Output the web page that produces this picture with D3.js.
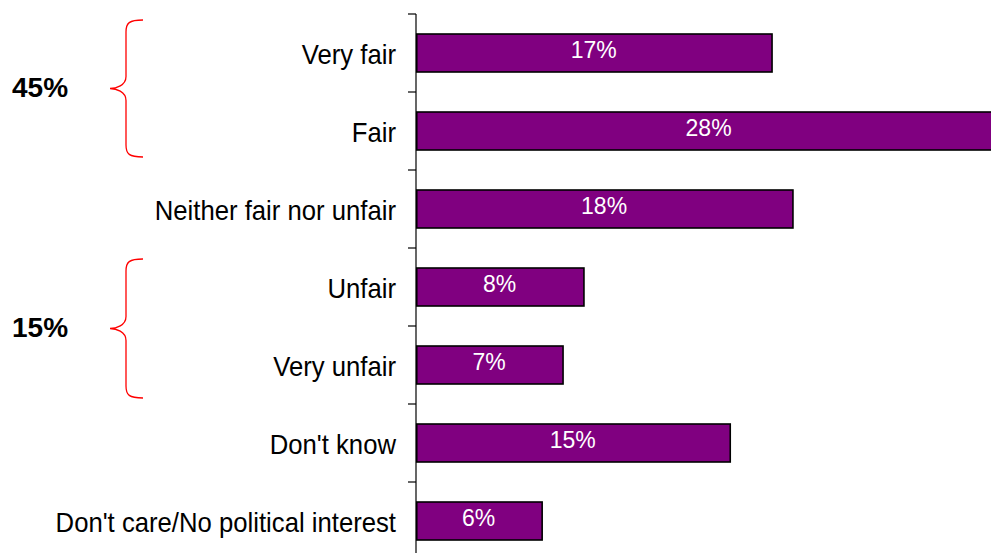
<!DOCTYPE html>
<html>
<head>
<meta charset="utf-8">
<script src="https://cdn.jsdelivr.net/npm/d3@7"></script>
<style>
  html, body { margin: 0; padding: 0; background: #fff; }
  svg { display: block; font-family: "Liberation Sans", Arial, sans-serif; }
</style>
</head>
<body>
<svg id="chart" width="991" height="553"></svg>
<script>
// Survey answers and their shares (%)
const categories = [
  "Very fair",
  "Fair",
  "Neither fair nor unfair",
  "Unfair",
  "Very unfair",
  "Don't know",
  "Don't care/No political interest"
];
const values = [17, 28, 18, 8, 7, 15, 6];

// Grouped totals shown beside the braces
const groupLabels = ["45%", "15%"];
const groupRanges = [["Very fair", "Fair"], ["Unfair", "Very unfair"]];

const svg = d3.select("#chart");
const W = 991, H = 553;

const x = d3.scaleLinear().domain([0, 20]).range([416, 834]);
const step = 78;
const y = d3.scaleBand()
  .domain(categories)
  .range([14, 14 + step * categories.length])
  .paddingInner(0.513)
  .paddingOuter(0.2565);

const stretch = "scale(1,1.1)";

// Bars
svg.append("g")
  .selectAll("rect")
  .data(values)
  .join("rect")
  .attr("x", x(0) + 0.75)
  .attr("y", (d, i) => y(categories[i]))
  .attr("width", d => x(d) - x(0))
  .attr("height", y.bandwidth())
  .attr("fill", "#800080")
  .attr("stroke", "#000")
  .attr("stroke-width", 1.6);

// Value labels inside bars
svg.append("g")
  .selectAll("text")
  .data(values)
  .join("text")
  .attr("x", d => (x(0) + x(d)) / 2)
  .attr("y", (d, i) => y(categories[i]) + y.bandwidth() / 2 + 5)
  .attr("text-anchor", "middle")
  .attr("fill", "#fff")
  .attr("font-size", 23)
  .text(d => d + "%");

// Category axis
const axisX = x(0);
svg.append("line")
  .attr("x1", axisX).attr("x2", axisX)
  .attr("y1", y.range()[0]).attr("y2", H)
  .attr("stroke", "#000").attr("stroke-width", 1.2);

const tickYs = d3.range(categories.length + 1).map(i => y.range()[0] + i * y.step());
svg.append("g")
  .selectAll("line")
  .data(tickYs)
  .join("line")
  .attr("x1", axisX - 8).attr("x2", axisX)
  .attr("y1", d => d).attr("y2", d => d)
  .attr("stroke", "#000").attr("stroke-width", 1.2);

svg.append("g")
  .selectAll("text")
  .data(categories)
  .join("text")
  .attr("transform", d =>
    `translate(396,${y(d) + y.bandwidth() / 2 + 10.5}) ${stretch}`)
  .attr("text-anchor", "end")
  .attr("fill", "#000")
  .attr("font-size", 25.7)
  .text(d => d);

// Red braces grouping answer pairs
function bracePath(x0, y0, y1) {
  const xm = x0 - 17, xt = x0 - 33, mid = (y0 + y1) / 2, r = 12;
  return `M${x0},${y0} C${xm + 3},${y0} ${xm},${y0 + 3} ${xm},${y0 + r}` +
    ` L${xm},${mid - r}` +
    ` C${xm},${mid - 3} ${xt + 6},${mid} ${xt},${mid}` +
    ` C${xt + 6},${mid} ${xm},${mid + 3} ${xm},${mid + r}` +
    ` L${xm},${y1 - r}` +
    ` C${xm},${y1 - 3} ${xm + 3},${y1} ${x0},${y1}`;
}

// brace overhang above the first bar / below the last bar of each group
const braceOverhang = [[14, 7], [9, 14]];

groupRanges.forEach((g, i) => {
  const top = y(g[0]) - braceOverhang[i][0];
  const bot = y(g[1]) + y.bandwidth() + braceOverhang[i][1];
  const mid = (top + bot) / 2;
  svg.append("path")
    .attr("d", bracePath(143, top, bot))
    .attr("fill", "none")
    .attr("stroke", "#ff0000")
    .attr("stroke-width", 1.3);
  svg.append("text")
    .attr("x", 12)
    .attr("y", mid + 8)
    .attr("font-size", 28)
    .attr("font-weight", "bold")
    .attr("fill", "#000")
    .text(groupLabels[i]);
});
</script>
</body>
</html>
